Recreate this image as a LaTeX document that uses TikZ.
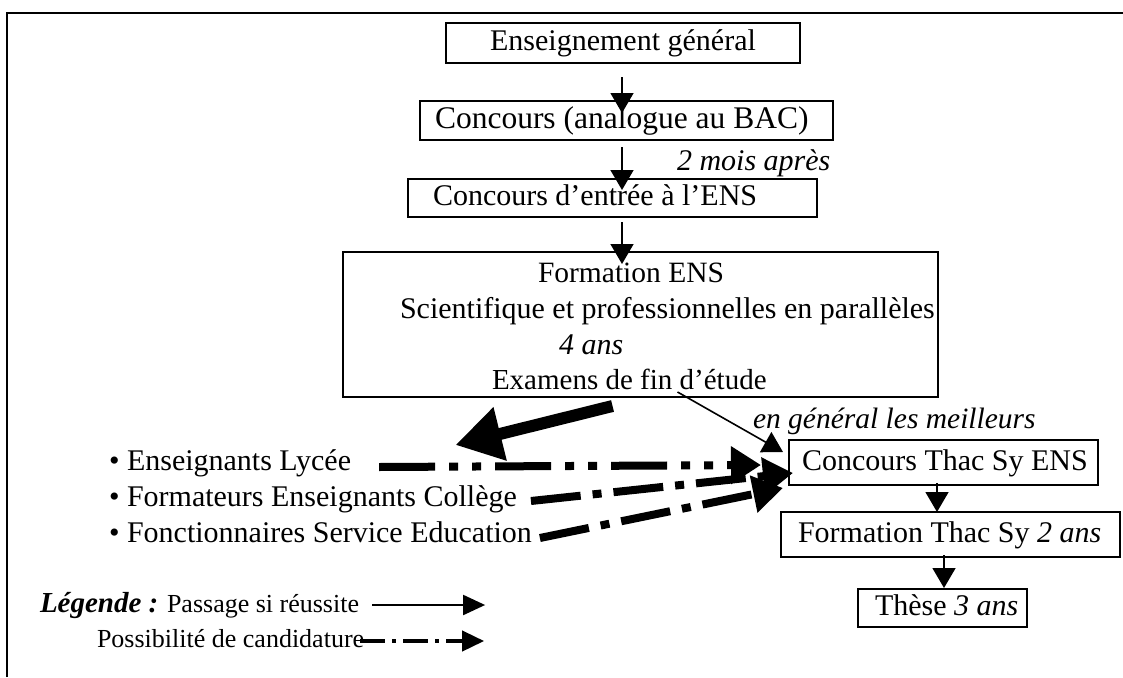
\documentclass[tikz,border=0pt]{standalone}
\usepackage{fontspec}
\setmainfont{Liberation Serif}
\usetikzlibrary{arrows.meta,calc}
\begin{document}
\begin{tikzpicture}[x=1pt,y=-1pt,
  font=\fontsize{30}{36}\selectfont,
  every node/.style={outer sep=0pt},
  boxnode/.style={draw, line width=2pt, anchor=north west, inner sep=0pt},
  txt/.style={anchor=west, inner sep=0pt, text height=21pt, text depth=6pt},
  thinarr/.style={line width=1.6pt, -{Triangle[length=20pt,width=23pt]}},
  bigarr/.style={line width=12pt, -{Triangle[length=46pt,width=52pt]}},
  dashA/.style={line width=8pt, dash pattern=on 56pt off 14pt on 9pt off 14pt on 9pt off 14pt, -{Triangle[length=30pt,width=36pt]}},
  dashB/.style={line width=8pt, dash pattern=on 50pt off 12pt on 9pt off 12pt, -{Triangle[length=30pt,width=36pt]}},
  legfont/.style={font=\fontsize{26}{30}\selectfont}
]
\useasboundingbox (0,0) rectangle (1123,677);
\fill[white] (0,0) rectangle (1123,677);
\draw[line width=2.5pt] (7,677) -- (7,13) -- (1123,13);

% top column
\node[boxnode, minimum width=354pt, minimum height=40pt] (b1) at (446,23) {};
\node[txt, anchor=center] (t1) at (b1.center) {Enseignement général};
\node[boxnode, minimum width=413pt, minimum height=39pt] (b2) at (420,101) {};
\node[txt, font=\fontsize{31.5}{36}\selectfont] (t2) at (435,120.5) {Concours (analogue au BAC)};
\node[txt] (mois) at (677,163) {\itshape 2 mois après};
\node[boxnode, minimum width=409pt, minimum height=38pt] (b3) at (408,179) {};
\node[txt] (t3) at (433,198) {Concours d’entrée à l’ENS};

\node[boxnode, minimum width=595pt, minimum height=145pt] (f) at (343,252) {};
\node[txt, font=\fontsize{29.5}{34}\selectfont] (fl1) at (538,275) {Formation ENS};
\node[txt] (fl2) at (400,311) {Scientifique et professionnelles en parallèles};
\node[txt] (fl3) at (559,347) {\itshape 4 ans};
\node[txt, font=\fontsize{29}{34}\selectfont] (fl4) at (492,382) {Examens de fin d’étude};

\draw[thinarr] ($(b1.south)+(-1,14)$) -- ($(b2.north)+(-4.5,12)$);
\draw[thinarr] ($(b2.south)+(-4.5,7)$) -- ($(b3.north)+(9.5,11)$);
\draw[thinarr] ($(b3.south)+(9.5,5)$) -- ($(f.north)+(-18.5,12)$);

% right column
\node[txt, font=\fontsize{29.5}{34}\selectfont] (meil) at (753,421) {\itshape en général les meilleurs};
\node[boxnode, minimum width=309pt, minimum height=45pt] (ct) at (789,440) {};
\node[txt] (ctt) at (802,462.5) {Concours Thac Sy ENS};
\node[boxnode, minimum width=339pt, minimum height=45pt] (ft) at (781,512) {};
\node[txt] (ftt) at (798,534.5) {Formation Thac Sy \textit{2 ans}};
\node[boxnode, minimum width=169pt, minimum height=38pt] (th) at (858,589) {};
\node[txt] (tht) at (875,608) {Thèse \textit{3 ans}};

\draw[thinarr] ($(ct.south)+(-6.5,-2)$) -- ($(ft.north)+(-13.5,0)$);
\draw[thinarr] ($(ft.south)+(-6.5,-2)$) -- ($(th.north)+(1.5,-1)$);

% outputs of formation ENS
\coordinate (bigtip) at ($(f.south)+(-185,48)$);
\draw[bigarr] ($(f.south)+(-28,9)$) -- (bigtip);
\draw[thinarr] ($(f.south)+(37,-5)$) -- ($(ct.north west)+(-6,12)$);

% list
\node[txt] (li1) at (109,463) {• Enseignants Lycée};
\node[txt] (li2) at (109,499) {• Formateurs Enseignants Collège};
\node[txt] (li3) at (109,535) {• Fonctionnaires Service Education};

\draw[dashA] ($(li1.east)+(28,4)$) -- ($(ct.west)+(-28,2.5)$);
\draw[dashB] ($(li2.east)+(14,2)$) -- ($(ct.west)+(4,10.5)$);
\draw[dashB] ($(li3.east)+(8,3)$) -- ($(ct.west)+(-6,25.5)$);

% legend
\node[txt, legfont] (lg1) at (40,605) {{\fontsize{29}{30}\selectfont\bfseries\itshape Légende :} Passage si réussite};
\node[txt, legfont] (lg2) at (97,640) {Possibilité de candidature};
\draw[line width=2pt, -{Triangle[length=22pt,width=20pt]}] ($(lg1.east)+(13,0)$) -- ++(113,0);
\draw[line width=4pt, dash pattern=on 25pt off 7pt on 4pt off 7pt, -{Triangle[length=22pt,width=20pt]}] ($(lg2.east)+(-4,1)$) -- ++(124,0);
\end{tikzpicture}
\end{document}
